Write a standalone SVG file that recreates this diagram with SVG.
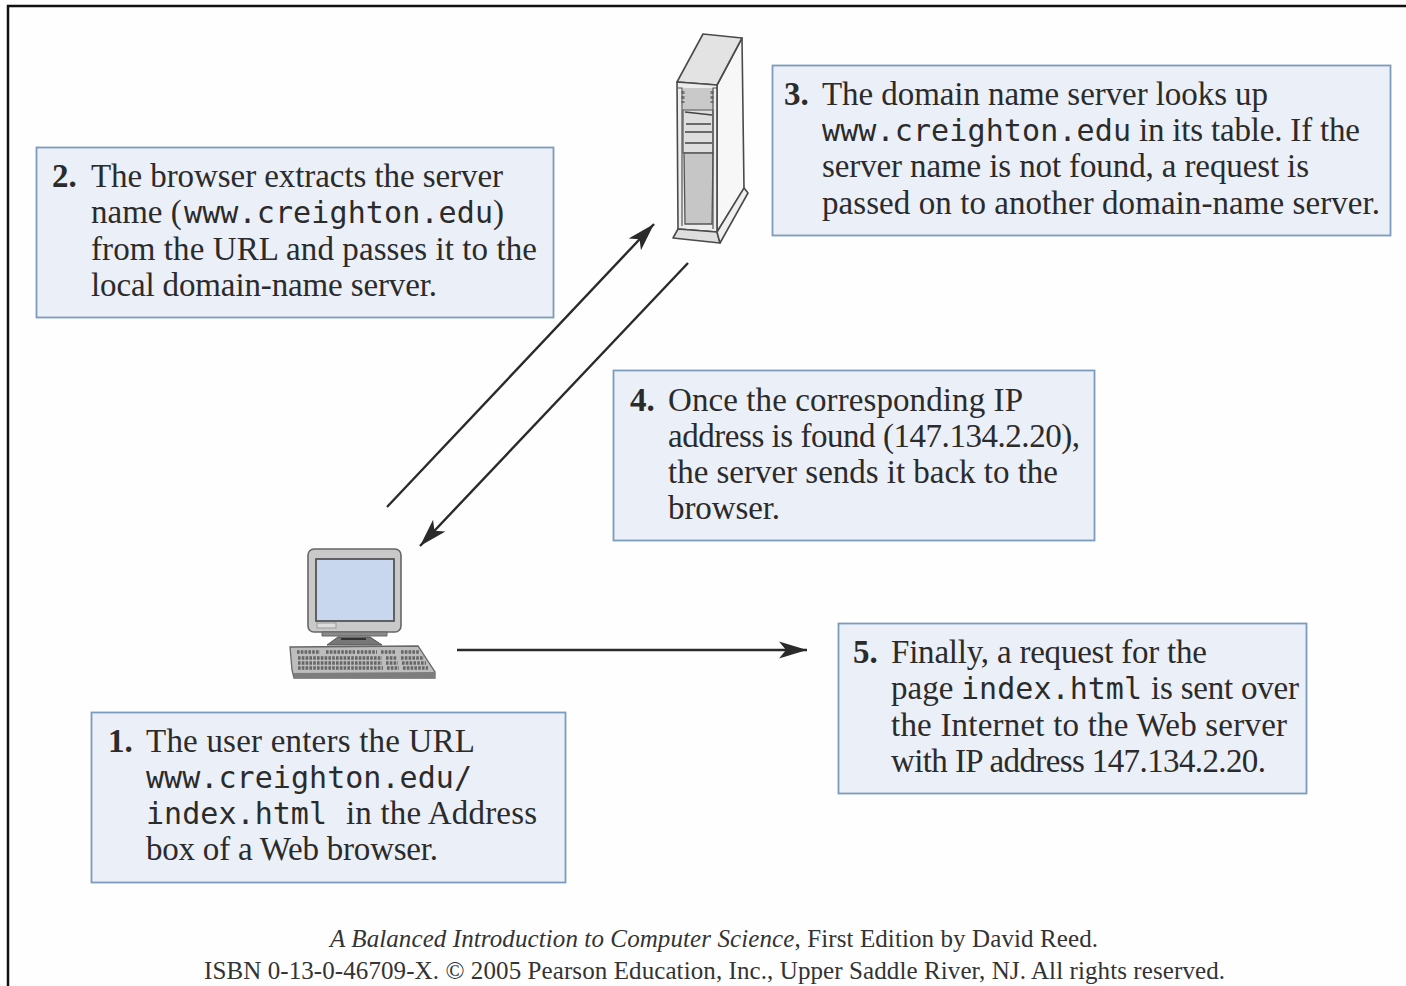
<svg xmlns="http://www.w3.org/2000/svg" width="1406" height="986" viewBox="0 0 1406 986">
<style>
.box{fill:#ebeff7;stroke:#7b9cbe;stroke-width:1.8}
text{font-family:"Liberation Serif","Times New Roman",serif;font-size:33px;fill:#2b2b2b}
.n{font-weight:bold}
.m{font-family:"DejaVu Sans Mono",monospace;font-size:30px}
.c{font-size:25px;fill:#333}
.i{font-style:italic}
.l{fill:none;stroke:#2a2a2a;stroke-width:2.4}
.d{stroke:#4a4a4a;stroke-width:1.6;stroke-linejoin:round}
.k{fill:none;stroke:#666;stroke-dasharray:2.6 1.2}
</style>
<defs>
<marker id="a" markerUnits="userSpaceOnUse" markerWidth="34" markerHeight="24" refX="28" refY="12" orient="auto"><path d="M0 3.500L28 12L0 20.500L7 12Z" fill="#2a2a2a"/></marker>
</defs>
<rect width="1406" height="986" fill="#fefefe"/>
<path d="M8 986V6H1406" fill="none" stroke="#111" stroke-width="2.5"/>
<g id="connectors">
<line class="l" x1="387" y1="507" x2="654" y2="224" marker-end="url(#a)"/>
<line class="l" x1="688" y1="263" x2="420" y2="546" marker-end="url(#a)"/>
<line class="l" x1="457" y1="650" x2="807" y2="650" marker-end="url(#a)"/>
</g>
<g id="server">
<path class="d" d="M717 85L742 38L744 189L717 232Z" fill="#f7f7f7"/>
<path class="d" d="M677 82L703 34L742 38L717 85Z" fill="#e3e3e3"/>
<path class="d" d="M677 82L717 85V232L678 229Z" fill="#ececec"/>
<path d="M683 88H713V110H683Z" fill="#c9c9c9"/>
<path d="M683 110H713V153H683Z" fill="#dedede" stroke="#555" stroke-width="1.2"/>
<path d="M684 153H713L712 224H685Z" fill="#c6c6c6" stroke="#555" stroke-width="1.3"/>
<path d="M685 112L712 115M686 124H711M685 132H712M685 143H712" fill="none" stroke="#444" stroke-width="1.6"/>
<path d="M683 91V103M712 91V103" fill="none" stroke="#777" stroke-width="3" stroke-dasharray="3 2"/>
<path d="M678 88L682 88V226M717 88H713V229" fill="none" stroke="#555" stroke-width="1.2"/>
<path class="d" d="M673 238L678 229L717 232L720 243Z" fill="#dedede"/>
<path class="d" d="M717 232L744 188L748 193L720 243Z" fill="#efefef"/>
</g>
<g id="computer">
<rect x="308" y="549" width="93" height="83" rx="6" fill="#c9c9c9" stroke="#666" stroke-width="1.6"/>
<rect x="316" y="559" width="78" height="62" fill="#c9d7ee" stroke="#555" stroke-width="1.8"/>
<rect x="317" y="623" width="19" height="5" fill="#ddd" stroke="#999" stroke-width="1"/>
<path d="M322 632H387V636H322Z" fill="#8a8a8a" stroke="#666"/>
<path d="M327 645L338 637H370L382 645Z" fill="#777" stroke="#555"/>
<path d="M341 639H366" stroke="#333" stroke-width="2"/>
<path d="M290 647L418 646L435 672V678H294L292 670Z" fill="#bdbdbd" stroke="#666" stroke-width="1.3"/>
<path d="M293 673L435 672V678H294Z" fill="#7d7d7d"/>
<g class="k" stroke-width="3.500">
<path d="M297 652H320M326 652H355M357 652H377M381 652H395M401 652H420"/>
<path d="M298 658H382M386 658H397M401 658H424"/>
<path d="M298 663H382M386 663H398M402 663H426"/>
<path d="M298 668H383M387 668H399M403 668H428"/>
</g>
</g>
<g id="step3">
<rect class="box" x="772.500" y="65.500" width="618" height="170"/>
<text class="n" x="784" y="104.500">3.</text>
<text x="822" y="104.500" textLength="446">The domain name server looks up</text>
<text class="m" x="822" y="140.500" textLength="309">www.creighton.edu</text>
<text x="1139" y="140.500" textLength="221">in its table. If the</text>
<text x="822" y="176.500" textLength="487">server name is not found, a request is</text>
<text x="822" y="213.500" textLength="558">passed on to another domain-name server.</text>
</g>
<g id="step2">
<rect class="box" x="36.500" y="147.500" width="517" height="170"/>
<text class="n" x="52" y="186.500">2.</text>
<text x="91" y="186.500" textLength="412">The browser extracts the server</text>
<text x="91" y="222.500">name (</text>
<text class="m" x="184" y="222.500" textLength="309">www.creighton.edu</text>
<text x="493" y="222.500">)</text>
<text x="91" y="259.500" textLength="446">from the URL and passes it to the</text>
<text x="91" y="295.500" textLength="346">local domain-name server.</text>
</g>
<g id="step4">
<rect class="box" x="613.500" y="370.500" width="481" height="170"/>
<text class="n" x="630" y="410.500">4.</text>
<text x="668" y="410.500" textLength="355">Once the corresponding IP</text>
<text x="668" y="446.500" textLength="412">address is found (147.134.2.20),</text>
<text x="668" y="482.500" textLength="390">the server sends it back to the</text>
<text x="668" y="518.500" textLength="112">browser.</text>
</g>
<g id="step5">
<rect class="box" x="838.500" y="623.500" width="468" height="170"/>
<text class="n" x="853" y="662.500">5.</text>
<text x="891" y="662.500" textLength="316">Finally, a request for the</text>
<text x="891" y="698.500">page</text>
<text class="m" x="961" y="698.500" textLength="181">index.html</text>
<text x="1151" y="698.500" textLength="148">is sent over</text>
<text x="891" y="735.500" textLength="396">the Internet to the Web server</text>
<text x="891" y="771.500" textLength="375">with IP address 147.134.2.20.</text>
</g>
<g id="step1">
<rect class="box" x="91.500" y="712.500" width="474" height="170"/>
<text class="n" x="108" y="751.500">1.</text>
<text x="146" y="751.500" textLength="329">The user enters the URL</text>
<text class="m" x="146" y="787.500" textLength="326">www.creighton.edu/</text>
<text class="m" x="146" y="823.500" textLength="181">index.html</text>
<text x="346" y="823.500" textLength="191">in the Address</text>
<text x="146" y="859.500" textLength="292">box of a Web browser.</text>
</g>
<g id="credit">
<text class="c" x="330" y="946.500" textLength="768"><tspan class="i">A Balanced Introduction to Computer Science</tspan>, First Edition by David Reed.</text>
<text class="c" x="204" y="979" textLength="1021">ISBN 0-13-0-46709-X. © 2005 Pearson Education, Inc., Upper Saddle River, NJ. All rights reserved.</text>
</g>
</svg>
